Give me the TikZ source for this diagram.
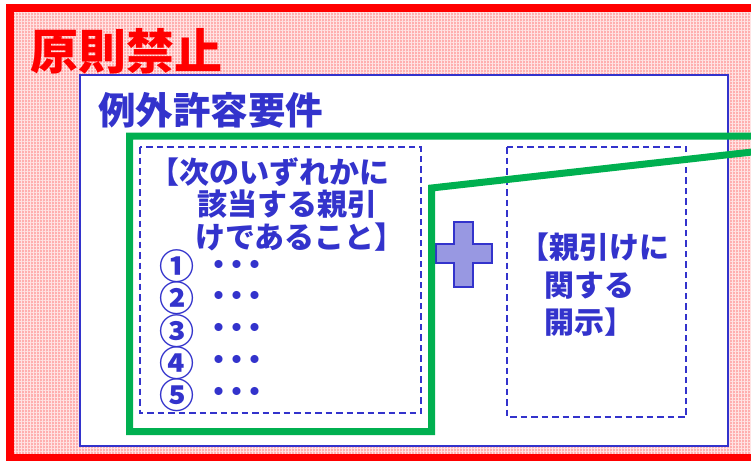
\documentclass[tikz,border=0pt]{standalone}
\usepackage{fontspec}
\usetikzlibrary{patterns.meta}
\setmainfont{Noto Sans CJK JP}
\definecolor{myred}{RGB}{255,0,0}
\definecolor{mypink}{RGB}{255,175,175}
\definecolor{mypinklight}{RGB}{255,228,228}
\definecolor{myblue}{RGB}{51,51,204}
\definecolor{mygreen}{RGB}{0,176,80}
\definecolor{plusfill}{RGB}{152,152,226}
\tikzset{
  outerframe/.style={draw=myred, line width=7.5pt},
  innerframe/.style={draw=myblue, line width=2pt, fill=white},
  dashbox/.style={draw=myblue, line width=2pt, dash pattern=on 6.5pt off 4pt},
  plusshape/.style={draw=myblue, line width=1.8pt, fill=plusfill},
  greenline/.style={draw=mygreen, line width=7pt, line join=miter},
  txt/.style={inner sep=0pt, outer sep=0pt, anchor=base west, text=myblue, font=\bfseries\fontsize{30pt}{32pt}\selectfont},
  numtxt/.style={inner sep=0pt, outer sep=0pt, anchor=center, text=myblue, font=\bfseries\fontsize{35pt}{37pt}\selectfont},
  dottxt/.style={inner sep=0pt, outer sep=0pt, anchor=center, text=myblue, font=\bfseries\fontsize{29pt}{31pt}\selectfont},
  titletxt/.style={inner sep=0pt, anchor=base west, text=myred, font=\bfseries\fontsize{48pt}{50pt}\selectfont},
  subtxt/.style={inner sep=0pt, anchor=base west, text=myblue, font=\bfseries\fontsize{37.5pt}{40pt}\selectfont},
}
\newcommand{\tridots}{\makebox[18pt]{・}\makebox[18pt]{・}\makebox[18pt]{・}}
\begin{document}
\begin{tikzpicture}[x=1pt,y=-1pt]
\useasboundingbox (0,0) rectangle (751,460);
\clip (0,0) rectangle (751,460);
% outer red frame with checkered pink fill
\fill[mypink] (10,8) rectangle (770,458);
\fill[pattern={Lines[distance=3pt,angle=0,line width=1pt]}, pattern color=mypinklight] (10,8) rectangle (770,458);
\fill[pattern={Lines[distance=3pt,angle=90,line width=1pt]}, pattern color=mypinklight] (10,8) rectangle (770,458);
\draw[outerframe] (10,8) rectangle (770,458);
\node[titletxt] (title) at (30,69) {原則禁止};
% inner blue frame
\draw[innerframe] (80,75) rectangle (728,446);
\node[subtxt] (sub) at (98,124) {例外許容要件};
% dashed boxes
\draw[dashbox] (140,147) rectangle (421,413);
\draw[dashbox] (507,147) rectangle (686,417);
% left text
\node[txt] (l1) at (149,183) {【次のいずれかに};
\node[txt] (l2) at (197,215) {該当する親引};
\node[txt] (l3) at (195,248) {けであること】};
\node[numtxt] (n1) at (176.5,266) {①};
\node[numtxt] (n2) at (176.5,298.5) {②};
\node[numtxt] (n3) at (176.5,331) {③};
\node[numtxt] (n4) at (176.5,363) {④};
\node[numtxt] (n5) at (176.5,395) {⑤};
\node[dottxt] (d1) at (236.5,268) {\tridots};
\node[dottxt] (d2) at (236.5,299) {\tridots};
\node[dottxt] (d3) at (236.5,331) {\tridots};
\node[dottxt] (d4) at (236.5,363) {\tridots};
\node[dottxt] (d5) at (236.5,395) {\tridots};
% right text
\node[txt] (r1) at (519,258) {【親引けに};
\node[txt] (r2) at (544,296) {関する};
\node[txt] (r3) at (544,333) {開示】};
% plus sign
\draw[plusshape] (454,222) -- (473,222) -- (473,244) -- (492,244) -- (492,263) -- (473,263)
  -- (473,287) -- (454,287) -- (454,263) -- (436,263) -- (436,244) -- (454,244) -- cycle;
% green outline
\coordinate (gA) at (770,150);
\coordinate (gB) at (431.5,188);
\coordinate (gC) at (431.5,431.5);
\coordinate (gD) at (129.5,431.5);
\coordinate (gE) at (129.5,136);
\coordinate (gF) at (770,136);
\draw[greenline] (gA) -- (gB) -- (gC) -- (gD) -- (gE) -- (gF);
\end{tikzpicture}
\end{document}
